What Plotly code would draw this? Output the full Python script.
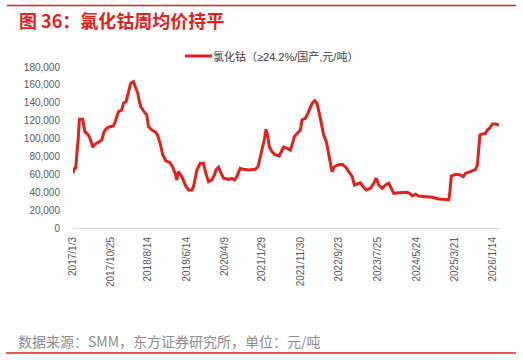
import plotly.graph_objects as go

# ---- data ----
dates = [
    "2017-01-03", "2017-01-11", "2017-01-24", "2017-02-01", "2017-02-14", "2017-02-22",
    "2017-03-20", "2017-04-07", "2017-04-21", "2017-05-03", "2017-05-17", "2017-06-07",
    "2017-06-17", "2017-07-09", "2017-08-04", "2017-08-17", "2017-09-04", "2017-09-25",
    "2017-10-21", "2017-11-16", "2017-11-30", "2017-12-26", "2018-01-21", "2018-02-03",
    "2018-02-24", "2018-03-14", "2018-04-02", "2018-04-23", "2018-05-08", "2018-05-27",
    "2018-06-09", "2018-06-20", "2018-07-16", "2018-08-06", "2018-08-19", "2018-09-14",
    "2018-10-10", "2018-10-29", "2018-11-19", "2018-12-10", "2019-01-03", "2019-02-05",
    "2019-02-24", "2019-03-17", "2019-03-30", "2019-04-12", "2019-05-09", "2019-06-04",
    "2019-06-30", "2019-07-26", "2019-08-08", "2019-09-04", "2019-09-30", "2019-10-26",
    "2019-11-13", "2019-12-04", "2019-12-31", "2020-01-20", "2020-01-31", "2020-02-21",
    "2020-03-13", "2020-03-31", "2020-05-09", "2020-06-05", "2020-06-26", "2020-07-14",
    "2020-08-09", "2020-09-04", "2020-10-14", "2020-12-05", "2020-12-27", "2021-01-14",
    "2021-02-01", "2021-02-14", "2021-02-28", "2021-03-12", "2021-03-26", "2021-04-16",
    "2021-05-12", "2021-06-12", "2021-06-28", "2021-07-16", "2021-08-12", "2021-09-07",
    "2021-09-28", "2021-10-09", "2021-10-30", "2021-11-25", "2021-12-08", "2022-01-03",
    "2022-01-29", "2022-02-25", "2022-03-17", "2022-04-05", "2022-05-01", "2022-05-27",
    "2022-06-17", "2022-07-05", "2022-07-19", "2022-08-01", "2022-08-19", "2022-09-14",
    "2022-10-19", "2022-11-14", "2022-12-10", "2023-01-06", "2023-01-24", "2023-02-19",
    "2023-03-12", "2023-04-02", "2023-04-28", "2023-05-30", "2023-06-25", "2023-07-14",
    "2023-08-03", "2023-08-30", "2023-09-25", "2023-10-21", "2023-11-11", "2023-11-29",
    "2024-01-07", "2024-03-14", "2024-04-09", "2024-04-22", "2024-05-18", "2024-06-13",
    "2024-08-05", "2024-09-26", "2024-11-17", "2025-01-09", "2025-02-04", "2025-02-12",
    "2025-02-23", "2025-03-29", "2025-05-07", "2025-05-28", "2025-06-15", "2025-07-25",
    "2025-09-02", "2025-09-16", "2025-09-28", "2025-10-06", "2025-10-25", "2025-11-20",
    "2025-12-03", "2025-12-21", "2026-01-12", "2026-02-07", "2026-03-05",
]
cocl2_price = [
    61000, 66000, 67000, 78000, 102000, 121500,
    121500, 107700, 105800, 104000, 100300, 90200,
    92800, 94700, 96500, 98400, 107700, 111500,
    113300, 114000, 118800, 130000, 132000, 139400,
    141200, 152400, 161800, 163600, 158000, 150600,
    141200, 135600, 130000, 126300, 113300, 109600,
    107700, 104000, 94700, 81600, 75200, 73000,
    68500, 61100, 53700, 63000, 57400, 48100,
    42500, 42500, 46200, 64800, 72300, 72300,
    61100, 51800, 53700, 59300, 64800, 67900,
    61100, 55600, 54400, 55600, 53700, 57400,
    66700, 65600, 64800, 65600, 68500, 79700,
    89100, 98400, 110300, 104000, 90900, 85300,
    81600, 80500, 85300, 90500, 89100, 87200,
    96500, 102000, 105800, 109600, 120700, 122600,
    130000, 139400, 142300, 139400, 122600, 104000,
    96500, 83500, 74100, 63000, 68500, 70400,
    71200, 68500, 63000, 57400, 48100, 50000,
    50600, 46200, 42500, 44400, 50000, 55600,
    48100, 44400, 48100, 50000, 44400, 38800,
    39500, 39900, 38000, 35800, 37700, 35800,
    35000, 34300, 32400, 31700, 31700, 40600,
    58100, 60000, 59300, 57400, 61100, 63000,
    65600, 70400, 92800, 104000, 105100, 105800,
    109600, 111500, 116300, 116300, 115200,
]
tick_dates = ["2017-01-03", "2017-10-25", "2018-08-14", "2019-06-14", "2020-04-09",
              "2021-01-29", "2021-11-30", "2022-09-23", "2023-07-25", "2024-05-24",
              "2025-03-21", "2026-01-14"]
tick_labels = ["2017/1/3", "2017/10/25", "2018/8/14", "2019/6/14", "2020/4/9",
               "2021/1/29", "2021/11/30", "2022/9/23", "2023/7/25", "2024/5/24",
               "2025/3/21", "2026/1/14"]
y_ticks = [0, 20000, 40000, 60000, 80000, 100000, 120000, 140000, 160000, 180000]

series_name = "氯化钴（≥24.2%/国产,元/吨）"
title_text = "图 36：氯化钴周均价持平"
source_text = "数据来源：SMM，东方证券研究所，单位：元/吨"

RED = "#E3201B"
GRAY_TXT = "#595959"
FONT = "Liberation Sans, Arial, Noto Sans CJK SC, sans-serif"
CJK = "Noto Sans CJK SC, Liberation Sans, sans-serif"

fig = go.Figure()
fig.add_trace(go.Scatter(
    x=dates, y=cocl2_price, mode="lines", name=series_name,
    line=dict(color=RED, width=3), showlegend=False,
))

W, H = 523, 360
L, R, T, B = 73, 24, 67, 132
pw, ph = W - L - R, H - T - B


def px(x):
    return (x - L) / pw


def py(y):
    return (H - B - y) / ph


fig.update_layout(
    width=W, height=H,
    margin=dict(l=L, r=R, t=T, b=B, pad=0),
    paper_bgcolor="white", plot_bgcolor="white",
    font=dict(family=FONT, size=10, color=GRAY_TXT),
    xaxis=dict(
        type="date", range=[dates[0], dates[-1]],
        tickmode="array", tickvals=tick_dates, ticktext=tick_labels,
        tickangle=-90, showgrid=False, zeroline=False,
        showline=True, linecolor="#D9D9D9", linewidth=1,
        ticks="", tickfont=dict(size=10, color=GRAY_TXT, family=FONT),
        ticklabelstandoff=4,
    ),
    yaxis=dict(
        range=[0, 180000], tickmode="array", tickvals=y_ticks,
        tickformat=",d", showgrid=False, zeroline=False, showline=False,
        ticks="", tickfont=dict(size=10, color=GRAY_TXT, family=FONT),
        ticklabelstandoff=12,
    ),
    shapes=[
        dict(type="line", xref="paper", yref="paper",
             x0=px(7), x1=px(516), y0=py(5.5), y1=py(5.5),
             line=dict(color=RED, width=1.5)),
        dict(type="line", xref="paper", yref="paper",
             x0=px(6), x1=px(516), y0=py(353), y1=py(353),
             line=dict(color=RED, width=1.5)),
        dict(type="line", xref="paper", yref="paper",
             x0=px(185), x1=px(212), y0=py(56), y1=py(56),
             line=dict(color=RED, width=3)),
    ],
    annotations=[
        dict(text=title_text, xref="paper", yref="paper", x=px(17), y=py(20),
             xanchor="left", yanchor="middle", showarrow=False,
             font=dict(family=CJK, size=18, color=RED, weight="bold")),
        dict(text=series_name, xref="paper", yref="paper", x=px(211), y=py(56),
             xanchor="left", yanchor="middle", showarrow=False,
             font=dict(family=FONT, size=11, color="#404040")),
        dict(text=source_text, xref="paper", yref="paper", x=px(16), y=py(341),
             xanchor="left", yanchor="middle", showarrow=False,
             font=dict(family=CJK, size=14, color="#8C8C8C")),
    ],
)

fig.write_html(
    "out.html",
    config={"displayModeBar": False, "responsive": False},
    post_script="document.body.style.margin='0';document.body.style.padding='0';",
)
